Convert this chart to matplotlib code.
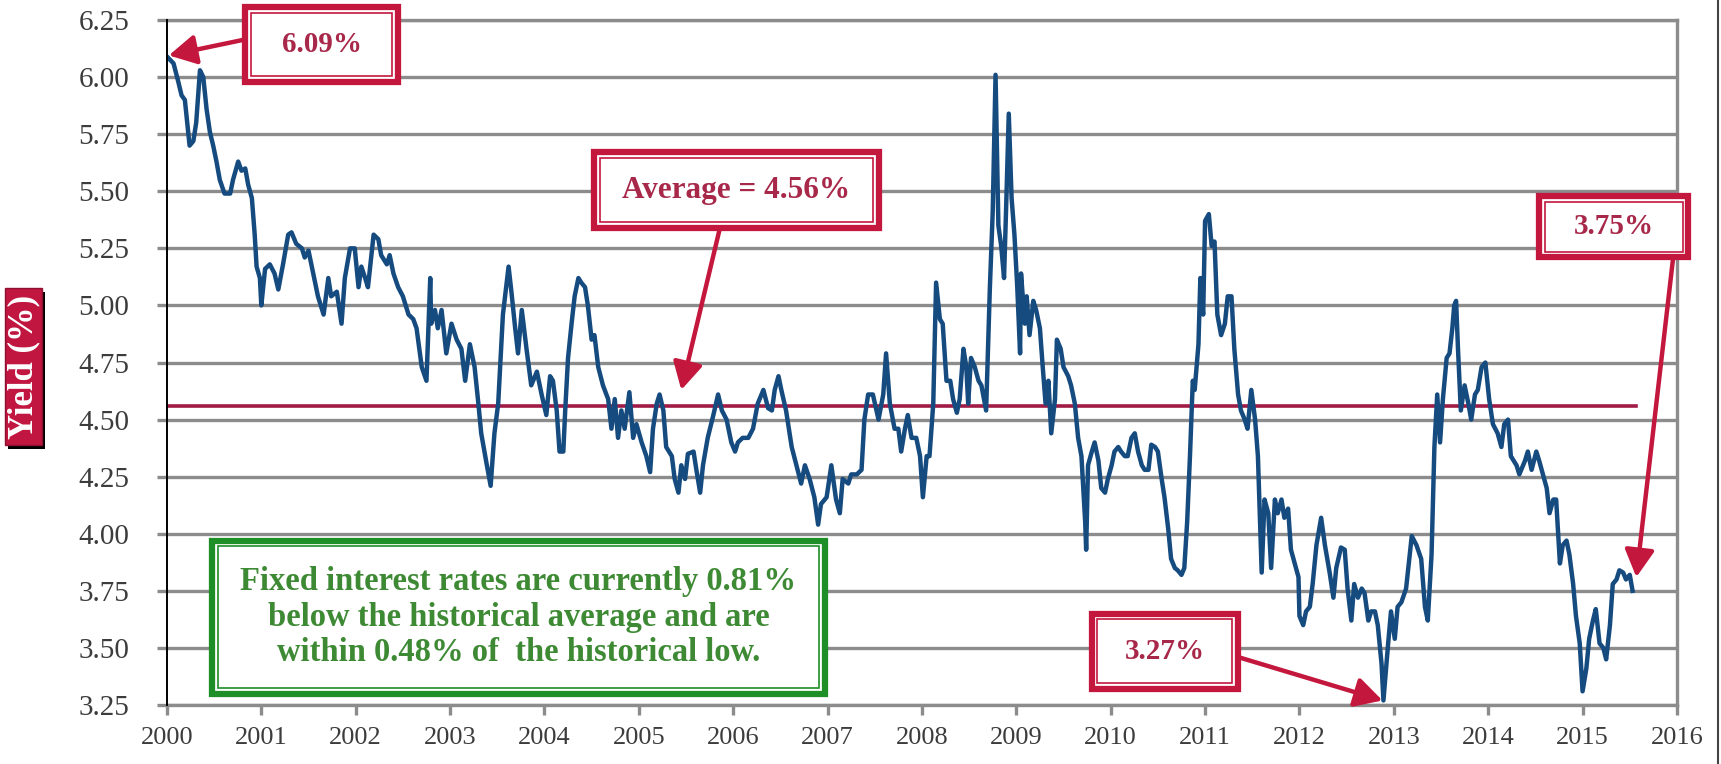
import matplotlib
matplotlib.use("Agg")
import matplotlib.pyplot as plt
from matplotlib.patches import Rectangle
from matplotlib.lines import Line2D
import numpy as np

plt.rcParams['font.family'] = ['Liberation Serif', 'DejaVu Serif']

# weekly yield, split in four stretches
years_a = [2000.00, 2000.07, 2000.12, 2000.155, 2000.19, 2000.21, 2000.24, 2000.28, 2000.31, 2000.35,
           2000.385, 2000.42, 2000.455, 2000.49, 2000.525, 2000.56, 2000.61, 2000.67, 2000.70, 2000.755,
           2000.79, 2000.83, 2000.86, 2000.90, 2000.93, 2000.95, 2000.985, 2001.00, 2001.04, 2001.09,
           2001.14, 2001.18, 2001.23, 2001.285, 2001.32, 2001.37, 2001.43, 2001.46, 2001.50, 2001.55,
           2001.60, 2001.66, 2001.71, 2001.74, 2001.80, 2001.85, 2001.885, 2001.94, 2001.99, 2002.03,
           2002.06, 2002.10, 2002.13, 2002.19, 2002.24, 2002.27, 2002.33, 2002.36, 2002.40, 2002.45,
           2002.50, 2002.56, 2002.61, 2002.645, 2002.70, 2002.75, 2002.79, 2002.80, 2002.84, 2002.87,
           2002.91, 2002.96, 2003.015, 2003.07, 2003.12, 2003.16, 2003.21, 2003.26, 2003.30, 2003.33,
           2003.39, 2003.43, 2003.47, 2003.51, 2003.56, 2003.62, 2003.65, 2003.69, 2003.72, 2003.76,
           2003.81, 2003.86, 2003.92, 2003.97, 2004.02]
yield_a = [6.09, 6.06, 5.98, 5.92, 5.90, 5.82, 5.70, 5.72, 5.80, 6.03,
           6.00, 5.86, 5.76, 5.70, 5.63, 5.55, 5.49, 5.49, 5.55, 5.63,
           5.59, 5.60, 5.53, 5.47, 5.31, 5.17, 5.12, 5.00, 5.16, 5.18,
           5.14, 5.07, 5.18, 5.31, 5.32, 5.27, 5.25, 5.21, 5.24, 5.14,
           5.04, 4.96, 5.12, 5.04, 5.06, 4.92, 5.12, 5.25, 5.25, 5.08,
           5.17, 5.12, 5.08, 5.31, 5.29, 5.22, 5.18, 5.22, 5.14, 5.08,
           5.04, 4.96, 4.94, 4.90, 4.73, 4.67, 5.12, 4.92, 4.98, 4.90,
           4.98, 4.79, 4.92, 4.85, 4.81, 4.67, 4.83, 4.73, 4.57, 4.44,
           4.30, 4.21, 4.44, 4.57, 4.96, 5.17, 5.06, 4.90, 4.79, 4.98,
           4.81, 4.65, 4.71, 4.61, 4.52]

years_b = [2004.06, 2004.09, 2004.13, 2004.16, 2004.20, 2004.22, 2004.25, 2004.29, 2004.32, 2004.36,
           2004.39, 2004.43, 2004.46, 2004.50, 2004.53, 2004.57, 2004.62, 2004.675, 2004.71, 2004.745,
           2004.78, 2004.815, 2004.85, 2004.90, 2004.94, 2004.975, 2005.03, 2005.08, 2005.12, 2005.15,
           2005.19, 2005.22, 2005.26, 2005.29, 2005.35, 2005.38, 2005.42, 2005.45, 2005.49, 2005.52,
           2005.58, 2005.61, 2005.65, 2005.68, 2005.73, 2005.79, 2005.84, 2005.88, 2005.93, 2005.98,
           2006.02, 2006.05, 2006.10, 2006.16, 2006.21, 2006.26, 2006.32, 2006.37, 2006.41, 2006.44,
           2006.48, 2006.51, 2006.56, 2006.62, 2006.67, 2006.72, 2006.76, 2006.81, 2006.86, 2006.90,
           2006.93, 2006.99, 2007.04, 2007.09, 2007.13, 2007.16, 2007.22, 2007.25, 2007.31, 2007.36,
           2007.39, 2007.43, 2007.48, 2007.54, 2007.59, 2007.62, 2007.66, 2007.71, 2007.75, 2007.78,
           2007.82, 2007.85, 2007.89, 2007.94, 2007.98, 2008.01, 2008.05, 2008.08, 2008.12, 2008.15]
yield_b = [4.69, 4.67, 4.54, 4.36, 4.36, 4.54, 4.77, 4.93, 5.04, 5.12,
           5.10, 5.08, 5.00, 4.85, 4.87, 4.73, 4.65, 4.59, 4.46, 4.59,
           4.42, 4.54, 4.46, 4.62, 4.42, 4.48, 4.40, 4.34, 4.27, 4.46,
           4.57, 4.61, 4.54, 4.38, 4.34, 4.24, 4.18, 4.30, 4.24, 4.35,
           4.36, 4.28, 4.18, 4.30, 4.42, 4.52, 4.61, 4.54, 4.50, 4.40,
           4.36, 4.40, 4.42, 4.42, 4.46, 4.57, 4.63, 4.55, 4.54, 4.63,
           4.69, 4.63, 4.54, 4.38, 4.30, 4.22, 4.30, 4.24, 4.16, 4.04,
           4.13, 4.16, 4.30, 4.15, 4.09, 4.24, 4.22, 4.26, 4.26, 4.28,
           4.50, 4.61, 4.61, 4.50, 4.61, 4.79, 4.57, 4.46, 4.46, 4.36,
           4.46, 4.52, 4.42, 4.42, 4.34, 4.16, 4.34, 4.34, 4.57, 5.10]

years_c = [2008.19, 2008.22, 2008.26, 2008.30, 2008.33, 2008.37, 2008.40, 2008.44, 2008.47, 2008.49,
           2008.52, 2008.56, 2008.60, 2008.63, 2008.68, 2008.72, 2008.75, 2008.78, 2008.81, 2008.84,
           2008.87, 2008.895, 2008.92, 2008.95, 2008.98, 2009.01, 2009.04, 2009.05, 2009.09, 2009.11,
           2009.14, 2009.18, 2009.21, 2009.25, 2009.28, 2009.31, 2009.34, 2009.37, 2009.41, 2009.43,
           2009.47, 2009.50, 2009.55, 2009.58, 2009.62, 2009.655, 2009.69, 2009.73, 2009.74, 2009.76,
           2009.80, 2009.83, 2009.87, 2009.90, 2009.94, 2009.97, 2010.01, 2010.04, 2010.08, 2010.11,
           2010.15, 2010.18, 2010.22, 2010.255, 2010.29, 2010.33, 2010.36, 2010.40, 2010.43, 2010.47,
           2010.50, 2010.54, 2010.57, 2010.61, 2010.64, 2010.68, 2010.71, 2010.75, 2010.78, 2010.81,
           2010.84, 2010.87, 2010.89, 2010.93, 2010.95, 2010.98, 2011.00, 2011.04, 2011.07, 2011.10,
           2011.13, 2011.17, 2011.21, 2011.24, 2011.28, 2011.31, 2011.35, 2011.38, 2011.42, 2011.45,
           2011.49, 2011.53, 2011.56, 2011.60, 2011.63, 2011.67, 2011.70, 2011.74, 2011.77, 2011.81,
           2011.84, 2011.88, 2011.91, 2011.95, 2011.99, 2012.00, 2012.04, 2012.07, 2012.11, 2012.14,
           2012.18, 2012.23, 2012.27]
yield_c = [4.94, 4.92, 4.67, 4.67, 4.59, 4.53, 4.59, 4.81, 4.73, 4.57,
           4.77, 4.73, 4.67, 4.65, 4.54, 5.08, 5.41, 6.01, 5.35, 5.26,
           5.12, 5.47, 5.84, 5.47, 5.31, 5.08, 4.79, 5.14, 4.92, 5.04,
           4.87, 5.02, 4.98, 4.90, 4.73, 4.57, 4.67, 4.44, 4.59, 4.85,
           4.81, 4.73, 4.69, 4.65, 4.57, 4.42, 4.34, 4.05, 3.93, 4.30,
           4.36, 4.40, 4.32, 4.20, 4.18, 4.24, 4.30, 4.36, 4.38, 4.36,
           4.34, 4.34, 4.42, 4.44, 4.36, 4.30, 4.28, 4.28, 4.39, 4.38,
           4.36, 4.24, 4.16, 4.02, 3.89, 3.85, 3.84, 3.82, 3.85, 4.05,
           4.34, 4.67, 4.63, 4.83, 5.12, 4.96, 5.37, 5.40, 5.26, 5.28,
           4.96, 4.87, 4.92, 5.04, 5.04, 4.81, 4.61, 4.54, 4.50, 4.46,
           4.63, 4.50, 4.34, 3.83, 4.15, 4.09, 3.85, 4.15, 4.09, 4.15,
           4.07, 4.11, 3.93, 3.87, 3.81, 3.64, 3.60, 3.66, 3.68, 3.78,
           3.95, 4.07, 3.95]

years_d = [2012.32, 2012.36, 2012.39, 2012.44, 2012.48, 2012.51, 2012.55, 2012.58, 2012.62, 2012.66,
           2012.69, 2012.73, 2012.76, 2012.80, 2012.83, 2012.87, 2012.89, 2012.94, 2012.97, 2013.01,
           2013.04, 2013.08, 2013.13, 2013.19, 2013.24, 2013.29, 2013.33, 2013.36, 2013.40, 2013.43,
           2013.46, 2013.49, 2013.52, 2013.56, 2013.59, 2013.62, 2013.64, 2013.66, 2013.68, 2013.71,
           2013.75, 2013.79, 2013.82, 2013.86, 2013.89, 2013.93, 2013.97, 2014.01, 2014.05, 2014.10,
           2014.14, 2014.17, 2014.21, 2014.24, 2014.30, 2014.33, 2014.39, 2014.42, 2014.46, 2014.51,
           2014.54, 2014.58, 2014.62, 2014.65, 2014.69, 2014.72, 2014.76, 2014.79, 2014.83, 2014.86,
           2014.90, 2014.93, 2014.97, 2015.00, 2015.04, 2015.07, 2015.11, 2015.14, 2015.18, 2015.22,
           2015.25, 2015.29, 2015.32, 2015.36, 2015.39, 2015.43, 2015.46, 2015.50, 2015.53]
yield_d = [3.83, 3.72, 3.85, 3.94, 3.93, 3.76, 3.62, 3.78, 3.72, 3.76,
           3.74, 3.62, 3.66, 3.66, 3.60, 3.43, 3.27, 3.52, 3.66, 3.54,
           3.68, 3.70, 3.76, 3.99, 3.95, 3.89, 3.68, 3.62, 3.91, 4.38,
           4.61, 4.40, 4.59, 4.77, 4.79, 4.90, 5.00, 5.02, 4.81, 4.54,
           4.65, 4.57, 4.50, 4.61, 4.63, 4.73, 4.75, 4.59, 4.48, 4.44,
           4.38, 4.48, 4.50, 4.34, 4.30, 4.26, 4.32, 4.36, 4.28, 4.36,
           4.32, 4.26, 4.20, 4.09, 4.15, 4.15, 3.87, 3.95, 3.97, 3.91,
           3.78, 3.64, 3.52, 3.31, 3.41, 3.54, 3.62, 3.67, 3.52, 3.50,
           3.45, 3.60, 3.78, 3.80, 3.84, 3.83, 3.80, 3.82, 3.75]

avg_yield = 4.56
avg_end = 2015.57
year_ticks = list(range(2000, 2017))
yield_ticks = [3.25, 3.50, 3.75, 4.00, 4.25, 4.50, 4.75, 5.00, 5.25, 5.50, 5.75, 6.00, 6.25]

note_text = ("Fixed interest rates are currently 0.81%\n"
             "below the historical average and are\n"
             "within 0.48% of  the historical low.")

BLUE = '#164B80'
RED = '#C4173D'
RED_TXT = '#A8284A'
AVG = '#A11B47'
GRID = '#8C8C8C'
GREEN = '#1E8E26'
GREEN_TXT = '#3E8A34'

years = np.concatenate([years_a, years_b, years_c, years_d])
yields = np.concatenate([yield_a, yield_b, yield_c, yield_d])

fig = plt.figure(figsize=(17.21, 7.64), dpi=100)
ax = fig.add_axes([0.0970, 0.0772, 0.8774, 0.8966])

ax.plot(years, yields, color=BLUE, lw=3.2, zorder=3, solid_joinstyle='round')
ax.plot([2000, avg_end], [avg_yield, avg_yield], color=AVG, lw=2.6, zorder=2.5)

ax.set_xlim(2000, 2016)
ax.set_ylim(3.25, 6.25)
ax.set_xticks(year_ticks)
ax.set_xticklabels([str(y) for y in year_ticks])
ax.set_yticks(yield_ticks)
ax.set_yticklabels(['%.2f' % v for v in yield_ticks])
ax.yaxis.grid(True, color=GRID, lw=2.4)
ax.set_axisbelow(True)

for s in ['top', 'right', 'bottom']:
    ax.spines[s].set_color(GRID)
    ax.spines[s].set_linewidth(2.4)
ax.spines['left'].set_color('black')
ax.spines['left'].set_linewidth(1.4)
ax.spines['left'].set_zorder(4)

ax.tick_params(axis='y', length=7, width=2.4, color=GRID, labelsize=21, labelcolor='#3c3c3c', pad=20)
ax.tick_params(axis='x', length=7, width=2.4, color=GRID, labelsize=19, labelcolor='#3c3c3c', pad=9)


def callout(x0, x1, y0, y1, text, ec, tc, size=22):
    ax.add_patch(Rectangle((x0, y0), x1 - x0, y1 - y0, fc='white', ec=ec, lw=4.5,
                           zorder=6, clip_on=False))
    ax.add_patch(Rectangle((x0 + 0.06, y0 + 0.025), x1 - x0 - 0.12, y1 - y0 - 0.05, fc='none',
                           ec=ec, lw=1.2, zorder=6, clip_on=False))
    ax.text((x0 + x1) / 2, (y0 + y1) / 2, text, color=tc, fontsize=size, fontweight='bold',
            ha='center', va='center', zorder=7, linespacing=1.2, clip_on=False)


def arrow(start, tip):
    ax.annotate('', xy=tip, xytext=start, annotation_clip=False, zorder=8,
                arrowprops=dict(arrowstyle='-|>,head_length=0.55,head_width=0.3', color=RED,
                                lw=3.2, mutation_scale=30, shrinkA=0, shrinkB=0))


callout(2000.83, 2002.45, 5.98, 6.307, '6.09%', RED, RED_TXT, 21)
arrow((2000.83, 6.165), (2000.02, 6.095))

callout(2004.53, 2007.54, 5.34, 5.67, 'Average = 4.56%', RED, RED_TXT, 22.5)
arrow((2005.86, 5.34), (2005.45, 4.63))

callout(2014.54, 2016.12, 5.21, 5.48, '3.75%', RED, RED_TXT, 21)
arrow((2015.96, 5.21), (2015.57, 3.81))

callout(2009.80, 2011.35, 3.32, 3.65, '3.27%', RED, RED_TXT, 21)
arrow((2011.35, 3.46), (2012.88, 3.27))

callout(2000.48, 2006.97, 3.30, 3.97, note_text, GREEN, GREEN_TXT, 23.5)

# y axis title in a red tab with a shadow
fig.add_artist(Rectangle((0.0046, 0.4123), 0.0215, 0.2055, transform=fig.transFigure,
                         fc='black', ec='none'))
fig.add_artist(Rectangle((0.0029, 0.4175), 0.0215, 0.2055, transform=fig.transFigure,
                         fc='#C0163F', ec='#8E1030', lw=1))
fig.text(0.0137, 0.520, 'Yield (%)', rotation=90, color='white', fontsize=25,
         fontweight='bold', ha='center', va='center')

fig.add_artist(Line2D([0.9985, 0.9985], [0, 1], transform=fig.transFigure, color='#444444', lw=1.5))

fig.savefig('out.png', dpi=100)
